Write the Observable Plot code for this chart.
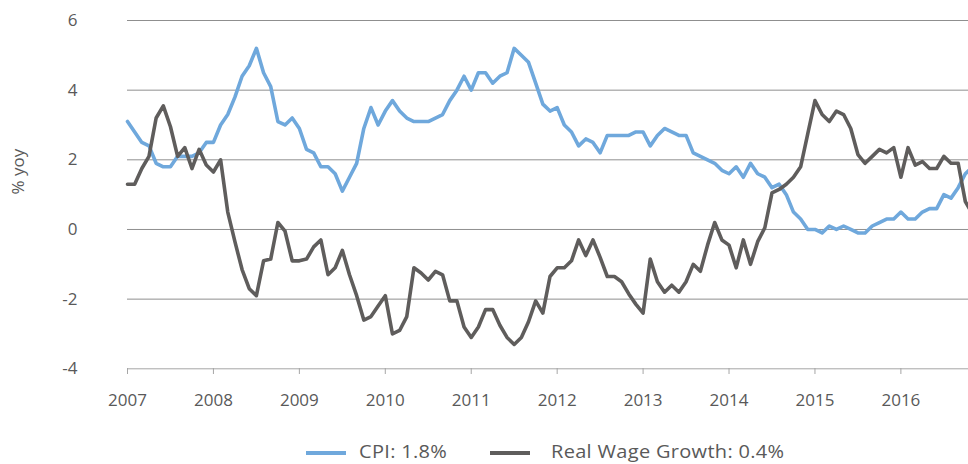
<!DOCTYPE html>
<html><head><meta charset="utf-8">
<script src="https://cdn.jsdelivr.net/npm/d3@7"></script>
<script src="https://cdn.jsdelivr.net/npm/@observablehq/plot@0.6"></script>
<style>
html,body{margin:0;padding:0;background:#fff;overflow:hidden;}
#wrap{position:relative;width:968px;height:464px;font-family:"Open Sans",sans-serif;color:#595959;}
#chart svg{display:block;overflow:hidden;}
#legend{position:absolute;top:440px;left:0;width:968px;height:22px;}
.sw{position:absolute;top:11px;width:40px;height:4px;}
.tx{position:absolute;top:0px;font-size:18.5px;letter-spacing:0.3px;line-height:21px;white-space:nowrap;transform:scaleX(1.08);transform-origin:left center;}
</style></head><body><div id="wrap"><div id="chart"></div><div id="legend"></div></div>
<script>
// Monthly values, Mar 2007 onwards (% yoy)
const cpi = [3.1,2.8,2.5,2.4,1.9,1.8,1.8,2.1,2.1,2.1,2.2,2.5,2.5,3.0,3.3,3.8,4.4,4.7,5.2,4.5,4.1,3.1,3.0,3.2,2.9,2.3,2.2,1.8,1.8,1.6,1.1,1.5,1.9,2.9,3.5,3.0,3.4,3.7,3.4,3.2,3.1,3.1,3.1,3.2,3.3,3.7,4.0,4.4,4.0,4.5,4.5,4.2,4.4,4.5,5.2,5.0,4.8,4.2,3.6,3.4,3.5,3.0,2.8,2.4,2.6,2.5,2.2,2.7,2.7,2.7,2.7,2.8,2.8,2.4,2.7,2.9,2.8,2.7,2.7,2.2,2.1,2.0,1.9,1.7,1.6,1.8,1.5,1.9,1.6,1.5,1.2,1.3,1.0,0.5,0.3,0.0,0.0,-0.1,0.1,0.0,0.1,0.0,-0.1,-0.1,0.1,0.2,0.3,0.3,0.5,0.3,0.3,0.5,0.6,0.6,1.0,0.9,1.2,1.6,1.8];
const realWage = [1.3,1.3,1.75,2.1,3.2,3.55,2.95,2.1,2.35,1.75,2.3,1.85,1.65,2.0,0.5,-0.35,-1.15,-1.7,-1.9,-0.9,-0.85,0.2,-0.05,-0.9,-0.9,-0.85,-0.5,-0.3,-1.3,-1.1,-0.6,-1.3,-1.9,-2.6,-2.5,-2.2,-1.9,-3.0,-2.9,-2.5,-1.1,-1.25,-1.45,-1.2,-1.3,-2.05,-2.05,-2.8,-3.1,-2.8,-2.3,-2.3,-2.75,-3.1,-3.3,-3.1,-2.65,-2.05,-2.4,-1.35,-1.1,-1.1,-0.9,-0.3,-0.75,-0.3,-0.8,-1.35,-1.35,-1.5,-1.85,-2.15,-2.4,-0.85,-1.5,-1.8,-1.6,-1.8,-1.5,-1.0,-1.2,-0.45,0.2,-0.3,-0.45,-1.1,-0.3,-1.0,-0.35,0.05,1.05,1.15,1.3,1.5,1.8,2.75,3.7,3.3,3.1,3.4,3.3,2.9,2.15,1.9,2.1,2.3,2.2,2.35,1.5,2.35,1.85,1.95,1.75,1.75,2.1,1.9,1.9,0.8,0.45];
const yearLabels = ["2007","2008","2009","2010","2011","2012","2013","2014","2015","2016"];
const yearTickIndex = [0,12,24,36,48,60,72,84,96,108];
const yTicks = [-4,-2,0,2,4,6];
const seriesNames = ["CPI: 1.8%","Real Wage Growth: 0.4%"];
const seriesColors = ["#6FA8DC","#5F5D5C"];

const rows = [];
cpi.forEach((v,i)=>rows.push({i, v, s: seriesNames[0]}));
realWage.forEach((v,i)=>rows.push({i, v, s: seriesNames[1]}));

const chart = Plot.plot({
  width: 968, height: 420,
  marginLeft: 127, marginRight: 0, marginTop: 20, marginBottom: 52,
  style: {fontFamily: "'Open Sans', sans-serif", fontSize: "17px", color: "#595959", background: "#fff"},
  x: {domain: [0, 118], range: [127, 972]},
  y: {domain: [-4, 6], range: [368.3, 20]},
  color: {domain: seriesNames, range: seriesColors},
  marks: [
    Plot.ruleY(yTicks.filter(d => d > -4), {x1: 0, x2: 118, stroke: "#8f8f8f", strokeWidth: 1}),
    Plot.ruleY([-4], {x1: 0, x2: 118, stroke: "#a6a6a6", strokeWidth: 1}),
    Plot.axisX(yearTickIndex, {tickFormat: d => yearLabels[yearTickIndex.indexOf(d)], tickSize: 6, tickPadding: 19, stroke: "#a6a6a6", fill: "#595959", fontSize: 17, label: null}),
    Plot.axisY(yTicks, {tickFormat: d => String(d), tickSize: 0, tickPadding: 50, fill: "#595959", fontSize: 17, label: null}),
    Plot.text(["% yoy"], {frameAnchor: "left", dx: -109, rotate: -90, fill: "#595959", fontSize: 17}),
    Plot.lineY(rows, {x: "i", y: "v", stroke: "s", strokeWidth: 3.6, strokeLinejoin: "round"})
  ]
});
document.getElementById("chart").appendChild(chart);

const legend = document.getElementById("legend");
const swLeft = [306, 490];
const txLeft = [359, 551];
seriesNames.forEach((n, k) => {
  const sw = document.createElement("div");
  sw.className = "sw";
  sw.style.left = swLeft[k] + "px";
  sw.style.background = seriesColors[k];
  const tx = document.createElement("div");
  tx.className = "tx";
  tx.style.left = txLeft[k] + "px";
  tx.textContent = n;
  legend.appendChild(sw); legend.appendChild(tx);
});
</script></body></html>
